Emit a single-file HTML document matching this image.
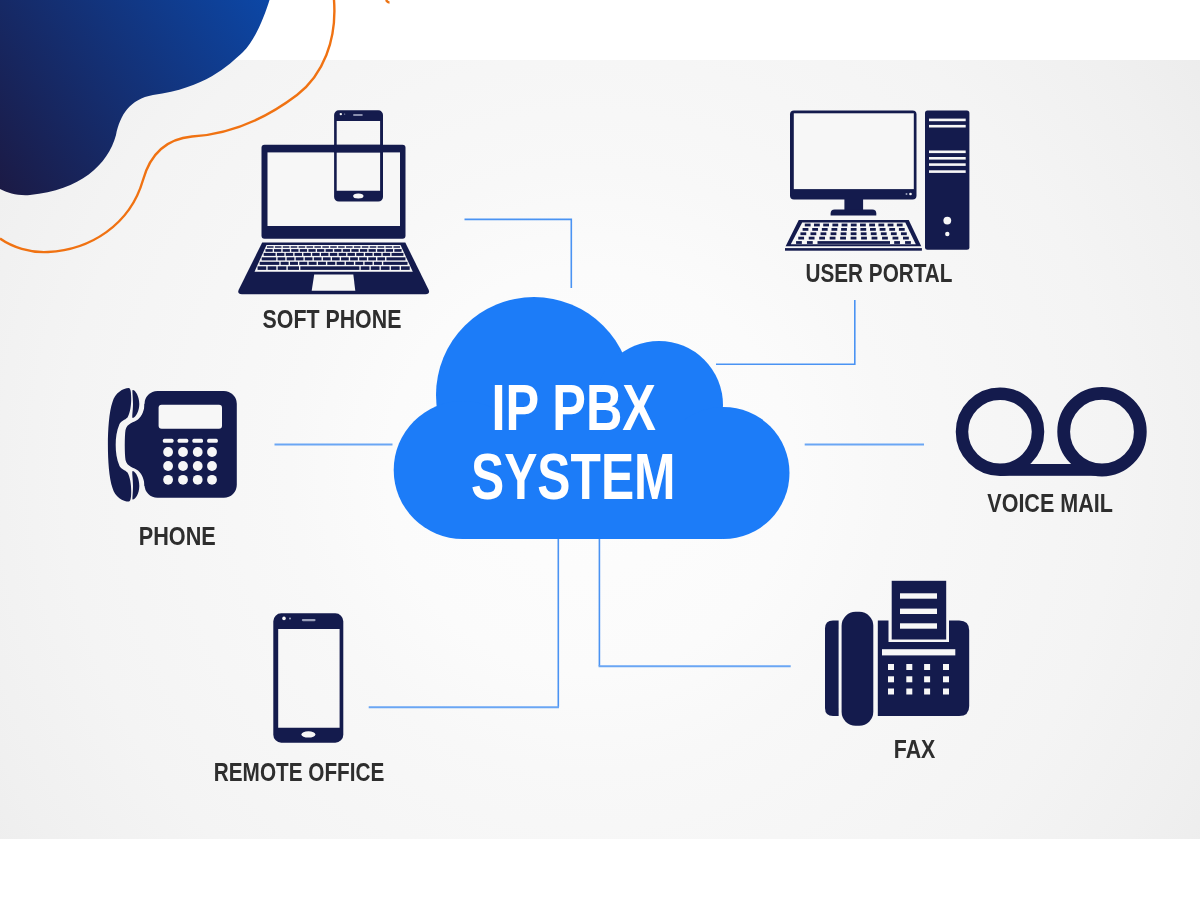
<!DOCTYPE html>
<html><head><meta charset="utf-8">
<style>
html,body{margin:0;padding:0;background:#fff;width:1200px;height:900px;overflow:hidden}
svg{display:block;will-change:transform}
.lbl{font-family:"Liberation Sans",sans-serif;font-weight:bold;fill:#2e2e2e;font-size:26.4px}
.big{font-family:"Liberation Sans",sans-serif;font-weight:bold;fill:#fff;font-size:64px}
</style></head>
<body>
<svg width="1200" height="900" viewBox="0 0 1200 900">
<defs>
<radialGradient id="bg" cx="590" cy="470" r="750" gradientUnits="userSpaceOnUse">
<stop offset="0" stop-color="#fdfdfd"/><stop offset="0.27" stop-color="#fbfbfb"/><stop offset="0.4" stop-color="#f8f8f8"/><stop offset="0.7" stop-color="#f4f4f4"/><stop offset="0.87" stop-color="#f0f0f0"/><stop offset="1" stop-color="#ececec"/>
</radialGradient>
<linearGradient id="blob" x1="0" y1="190" x2="270" y2="0" gradientUnits="userSpaceOnUse">
<stop offset="0" stop-color="#1b1a45"/><stop offset="1" stop-color="#0c47a6"/>
</linearGradient>
</defs>
<rect x="0" y="0" width="1200" height="900" fill="#fff"/>
<rect x="0" y="60" width="1200" height="779" fill="url(#bg)"/>
<!-- blob -->
<path d="M0,0 L269.5,0 C265,15 255,40.8 243,52 C228,66 205,88 153,95 C130,99 120,115 116,135 C108,165 80,190 30,195 C18,196 8,193 0,189 Z" fill="url(#blob)"/>
<!-- orange curve -->
<path d="M334,0 C337,40 323,75 297,95 C268,117 232,134 192,136.5 C165,139 150,155 143,180 C130,225 90,250 48,252 C30,253 12,247 0,238.5" fill="none" stroke="#f07212" stroke-width="2.4"/>
<path d="M386,0 C387,1.5 388,2.5 389.5,2.5" fill="none" stroke="#ec7415" stroke-width="2.5"/>
<!-- connector lines -->
<g fill="none" stroke="#4a93f3" stroke-width="1.6">
<path d="M464.5,219.4 H571.3 V288"/>
<path d="M854.8,300 V364.3 H716"/>
<path d="M558.3,707.2 V538"/>
<path d="M599.4,538 V666.2"/>
</g>
<g fill="none" stroke="#6aa6f4" stroke-width="2">
<path d="M274.5,444.4 H392.5"/>
<path d="M804.7,444.4 H924"/>
<path d="M368.7,707.2 H559"/>
<path d="M598.6,666.2 H790.7"/>
</g>
<!-- cloud -->
<g fill="#1c7cf8">
<circle cx="534" cy="395" r="98"/>
<circle cx="659" cy="405" r="64"/>
<circle cx="462.7" cy="470" r="69"/>
<circle cx="723.5" cy="473" r="66"/>
<rect x="462" y="420" width="260" height="119"/>
</g>
<text class="big" x="491.5" y="430" textLength="164.5" lengthAdjust="spacingAndGlyphs">IP PBX</text>
<text class="big" x="471" y="498.7" textLength="204.5" lengthAdjust="spacingAndGlyphs">SYSTEM</text>
<!-- labels -->
<text class="lbl" x="262.6" y="328.2" textLength="138.8" lengthAdjust="spacingAndGlyphs">SOFT PHONE</text>
<text class="lbl" x="805.5" y="281.8" textLength="147" lengthAdjust="spacingAndGlyphs">USER PORTAL</text>
<text class="lbl" x="138.8" y="544.6" textLength="77" lengthAdjust="spacingAndGlyphs">PHONE</text>
<text class="lbl" x="987.3" y="511.7" textLength="125.5" lengthAdjust="spacingAndGlyphs">VOICE MAIL</text>
<text class="lbl" x="213.8" y="780.8" textLength="170.5" lengthAdjust="spacingAndGlyphs">REMOTE OFFICE</text>
<text class="lbl" x="893.8" y="758.4" textLength="41.5" lengthAdjust="spacingAndGlyphs">FAX</text>
<!-- ICONS -->
<g id="icons">
<rect x="261.5" y="144.8" width="144" height="94" rx="3" fill="#141b4d"/>
<rect x="267.5" y="152.4" width="132.5" height="73.6" fill="#f7f7f7"/>
<path d="M262.2,242.5 H405.3 L428.5,289.5 Q430.5,294.2 425.5,294.2 H241.8 Q236.8,294.2 238.8,289.5 Z" fill="#141b4d"/>
<path d="M266.5,245.0 H400.5 L412.8,271.8 H254.5 Z" fill="#f7f7f7"/>
<rect x="267" y="246" width="6.55" height="2" fill="#141b4d" fill-opacity="0.75"/>
<rect x="274.91" y="246" width="6.55" height="2" fill="#141b4d" fill-opacity="0.75"/>
<rect x="282.81" y="246" width="6.55" height="2" fill="#141b4d" fill-opacity="0.75"/>
<rect x="290.72" y="246" width="6.55" height="2" fill="#141b4d" fill-opacity="0.75"/>
<rect x="298.62" y="246" width="6.55" height="2" fill="#141b4d" fill-opacity="0.75"/>
<rect x="306.52" y="246" width="6.55" height="2" fill="#141b4d" fill-opacity="0.75"/>
<rect x="314.43" y="246" width="6.55" height="2" fill="#141b4d" fill-opacity="0.75"/>
<rect x="322.33" y="246" width="6.55" height="2" fill="#141b4d" fill-opacity="0.75"/>
<rect x="330.23" y="246" width="6.55" height="2" fill="#141b4d" fill-opacity="0.75"/>
<rect x="338.14" y="246" width="6.55" height="2" fill="#141b4d" fill-opacity="0.75"/>
<rect x="346.04" y="246" width="6.55" height="2" fill="#141b4d" fill-opacity="0.75"/>
<rect x="353.95" y="246" width="6.55" height="2" fill="#141b4d" fill-opacity="0.75"/>
<rect x="361.85" y="246" width="6.55" height="2" fill="#141b4d" fill-opacity="0.75"/>
<rect x="369.75" y="246" width="6.55" height="2" fill="#141b4d" fill-opacity="0.75"/>
<rect x="377.66" y="246" width="6.55" height="2" fill="#141b4d" fill-opacity="0.75"/>
<rect x="385.56" y="246" width="6.55" height="2" fill="#141b4d" fill-opacity="0.75"/>
<rect x="393.46" y="246" width="6.55" height="2" fill="#141b4d" fill-opacity="0.75"/>
<rect x="265.46" y="249.1" width="7.24" height="2.7" fill="#141b4d" fill-opacity="1"/>
<rect x="274.05" y="249.1" width="7.24" height="2.7" fill="#141b4d" fill-opacity="1"/>
<rect x="282.65" y="249.1" width="7.24" height="2.7" fill="#141b4d" fill-opacity="1"/>
<rect x="291.24" y="249.1" width="7.24" height="2.7" fill="#141b4d" fill-opacity="1"/>
<rect x="299.83" y="249.1" width="7.24" height="2.7" fill="#141b4d" fill-opacity="1"/>
<rect x="308.43" y="249.1" width="7.24" height="2.7" fill="#141b4d" fill-opacity="1"/>
<rect x="317.02" y="249.1" width="7.24" height="2.7" fill="#141b4d" fill-opacity="1"/>
<rect x="325.61" y="249.1" width="7.24" height="2.7" fill="#141b4d" fill-opacity="1"/>
<rect x="334.21" y="249.1" width="7.24" height="2.7" fill="#141b4d" fill-opacity="1"/>
<rect x="342.8" y="249.1" width="7.24" height="2.7" fill="#141b4d" fill-opacity="1"/>
<rect x="351.39" y="249.1" width="7.24" height="2.7" fill="#141b4d" fill-opacity="1"/>
<rect x="359.99" y="249.1" width="7.24" height="2.7" fill="#141b4d" fill-opacity="1"/>
<rect x="368.58" y="249.1" width="7.24" height="2.7" fill="#141b4d" fill-opacity="1"/>
<rect x="377.17" y="249.1" width="7.24" height="2.7" fill="#141b4d" fill-opacity="1"/>
<rect x="385.76" y="249.1" width="7.24" height="2.7" fill="#141b4d" fill-opacity="1"/>
<rect x="394.36" y="249.1" width="7.24" height="2.7" fill="#141b4d" fill-opacity="1"/>
<rect x="263.69" y="252.9" width="11.88" height="3" fill="#141b4d" fill-opacity="1"/>
<rect x="276.92" y="252.9" width="7.47" height="3" fill="#141b4d" fill-opacity="1"/>
<rect x="285.73" y="252.9" width="7.47" height="3" fill="#141b4d" fill-opacity="1"/>
<rect x="294.55" y="252.9" width="7.47" height="3" fill="#141b4d" fill-opacity="1"/>
<rect x="303.37" y="252.9" width="7.47" height="3" fill="#141b4d" fill-opacity="1"/>
<rect x="312.18" y="252.9" width="7.47" height="3" fill="#141b4d" fill-opacity="1"/>
<rect x="321" y="252.9" width="7.47" height="3" fill="#141b4d" fill-opacity="1"/>
<rect x="329.82" y="252.9" width="7.47" height="3" fill="#141b4d" fill-opacity="1"/>
<rect x="338.64" y="252.9" width="7.47" height="3" fill="#141b4d" fill-opacity="1"/>
<rect x="347.45" y="252.9" width="7.47" height="3" fill="#141b4d" fill-opacity="1"/>
<rect x="356.27" y="252.9" width="7.47" height="3" fill="#141b4d" fill-opacity="1"/>
<rect x="365.09" y="252.9" width="7.47" height="3" fill="#141b4d" fill-opacity="1"/>
<rect x="373.9" y="252.9" width="7.47" height="3" fill="#141b4d" fill-opacity="1"/>
<rect x="382.72" y="252.9" width="7.47" height="3" fill="#141b4d" fill-opacity="1"/>
<rect x="391.54" y="252.9" width="11.88" height="3" fill="#141b4d" fill-opacity="1"/>
<rect x="261.7" y="257.3" width="14.52" height="3.1" fill="#141b4d" fill-opacity="1"/>
<rect x="277.57" y="257.3" width="7.72" height="3.1" fill="#141b4d" fill-opacity="1"/>
<rect x="286.64" y="257.3" width="7.72" height="3.1" fill="#141b4d" fill-opacity="1"/>
<rect x="295.71" y="257.3" width="7.72" height="3.1" fill="#141b4d" fill-opacity="1"/>
<rect x="304.78" y="257.3" width="7.72" height="3.1" fill="#141b4d" fill-opacity="1"/>
<rect x="313.85" y="257.3" width="7.72" height="3.1" fill="#141b4d" fill-opacity="1"/>
<rect x="322.92" y="257.3" width="7.72" height="3.1" fill="#141b4d" fill-opacity="1"/>
<rect x="331.99" y="257.3" width="7.72" height="3.1" fill="#141b4d" fill-opacity="1"/>
<rect x="341.05" y="257.3" width="7.72" height="3.1" fill="#141b4d" fill-opacity="1"/>
<rect x="350.12" y="257.3" width="7.72" height="3.1" fill="#141b4d" fill-opacity="1"/>
<rect x="359.19" y="257.3" width="7.72" height="3.1" fill="#141b4d" fill-opacity="1"/>
<rect x="368.26" y="257.3" width="7.72" height="3.1" fill="#141b4d" fill-opacity="1"/>
<rect x="377.33" y="257.3" width="7.72" height="3.1" fill="#141b4d" fill-opacity="1"/>
<rect x="386.4" y="257.3" width="19.06" height="3.1" fill="#141b4d" fill-opacity="1"/>
<rect x="259.68" y="261.8" width="19.63" height="3.1" fill="#141b4d" fill-opacity="1"/>
<rect x="280.66" y="261.8" width="7.97" height="3.1" fill="#141b4d" fill-opacity="1"/>
<rect x="289.99" y="261.8" width="7.97" height="3.1" fill="#141b4d" fill-opacity="1"/>
<rect x="299.31" y="261.8" width="7.97" height="3.1" fill="#141b4d" fill-opacity="1"/>
<rect x="308.64" y="261.8" width="7.97" height="3.1" fill="#141b4d" fill-opacity="1"/>
<rect x="317.96" y="261.8" width="7.97" height="3.1" fill="#141b4d" fill-opacity="1"/>
<rect x="327.28" y="261.8" width="7.97" height="3.1" fill="#141b4d" fill-opacity="1"/>
<rect x="336.61" y="261.8" width="7.97" height="3.1" fill="#141b4d" fill-opacity="1"/>
<rect x="345.93" y="261.8" width="7.97" height="3.1" fill="#141b4d" fill-opacity="1"/>
<rect x="355.26" y="261.8" width="7.97" height="3.1" fill="#141b4d" fill-opacity="1"/>
<rect x="364.58" y="261.8" width="7.97" height="3.1" fill="#141b4d" fill-opacity="1"/>
<rect x="373.91" y="261.8" width="7.97" height="3.1" fill="#141b4d" fill-opacity="1"/>
<rect x="383.23" y="261.8" width="24.29" height="3.1" fill="#141b4d" fill-opacity="1"/>
<rect x="257.56" y="266.3" width="8.72" height="3.6" fill="#141b4d" fill-opacity="1"/>
<rect x="267.62" y="266.3" width="8.72" height="3.6" fill="#141b4d" fill-opacity="1"/>
<rect x="277.69" y="266.3" width="8.72" height="3.6" fill="#141b4d" fill-opacity="1"/>
<rect x="287.75" y="266.3" width="11.23" height="3.6" fill="#141b4d" fill-opacity="1"/>
<rect x="300.33" y="266.3" width="59.04" height="3.6" fill="#141b4d" fill-opacity="1"/>
<rect x="360.73" y="266.3" width="8.72" height="3.6" fill="#141b4d" fill-opacity="1"/>
<rect x="370.79" y="266.3" width="8.72" height="3.6" fill="#141b4d" fill-opacity="1"/>
<rect x="380.86" y="266.3" width="8.72" height="3.6" fill="#141b4d" fill-opacity="1"/>
<rect x="390.92" y="266.3" width="8.72" height="3.6" fill="#141b4d" fill-opacity="1"/>
<rect x="400.99" y="266.3" width="8.72" height="3.6" fill="#141b4d" fill-opacity="1"/>
<path d="M314.2,274.5 H353.3 L355.3,290.8 H311.7 Z" fill="#f7f7f7"/>
<path fill-rule="evenodd" d="M338.8,110.3 H378.3 A4.7,4.7 0 0 1 383,115 V196.9 A4.7,4.7 0 0 1 378.3,201.6 H338.8 A4.7,4.7 0 0 1 334.1,196.9 V115 A4.7,4.7 0 0 1 338.8,110.3 Z M336.7,121.1 V190.8 H380.1 V121.1 Z" fill="#141b4d"/>
<rect x="334.1" y="144.8" width="48.9" height="7.6" fill="#141b4d"/>
<ellipse cx="358.3" cy="196" rx="5.2" ry="2.5" fill="#f7f7f7"/>
<rect x="353" y="114" width="9.8" height="2" rx="1" fill="#8a8fae"/>
<circle cx="340.8" cy="114.1" r="1.2" fill="#f7f7f7"/>
<circle cx="344.6" cy="114.1" r="0.7" fill="#8a8fae"/>
<rect x="790" y="110.5" width="126.5" height="89" rx="4" fill="#141b4d"/>
<rect x="793.8" y="113.3" width="120" height="75.8" fill="#f7f7f7"/>
<circle cx="906.5" cy="194" r="1" fill="#9aa0bb"/>
<circle cx="910.5" cy="194" r="1.3" fill="#f7f7f7"/>
<rect x="844.4" y="198" width="18.7" height="12.5" fill="#141b4d"/>
<path d="M834.6,209.4 H872.3 Q876.3,209.4 876.3,213.4 V215.6 H830.6 V213.4 Q830.6,209.4 834.6,209.4 Z" fill="#141b4d"/>
<path d="M798.75,220 H908.75 L921.25,246.25 H785.6 Z" fill="#141b4d"/>
<path d="M802.2,222.5 H905.3 L915.8,244.2 H790.8 Z" fill="#f7f7f7"/>
<rect x="785" y="248.1" width="136.9" height="2.6" fill="#141b4d"/>
<rect x="804.79" y="223.6" width="5.8" height="2.8" fill="#141b4d"/>
<rect x="813.99" y="223.6" width="5.8" height="2.8" fill="#141b4d"/>
<rect x="823.2" y="223.6" width="5.8" height="2.8" fill="#141b4d"/>
<rect x="832.41" y="223.6" width="5.8" height="2.8" fill="#141b4d"/>
<rect x="841.61" y="223.6" width="5.8" height="2.8" fill="#141b4d"/>
<rect x="850.82" y="223.6" width="5.8" height="2.8" fill="#141b4d"/>
<rect x="860.02" y="223.6" width="5.8" height="2.8" fill="#141b4d"/>
<rect x="869.23" y="223.6" width="5.8" height="2.8" fill="#141b4d"/>
<rect x="878.43" y="223.6" width="5.8" height="2.8" fill="#141b4d"/>
<rect x="887.64" y="223.6" width="5.8" height="2.8" fill="#141b4d"/>
<rect x="896.84" y="223.6" width="5.8" height="2.8" fill="#141b4d"/>
<rect x="802.6" y="228" width="5.8" height="2.8" fill="#141b4d"/>
<rect x="812.23" y="228" width="5.8" height="2.8" fill="#141b4d"/>
<rect x="821.86" y="228" width="5.8" height="2.8" fill="#141b4d"/>
<rect x="831.49" y="228" width="5.8" height="2.8" fill="#141b4d"/>
<rect x="841.12" y="228" width="5.8" height="2.8" fill="#141b4d"/>
<rect x="850.75" y="228" width="5.8" height="2.8" fill="#141b4d"/>
<rect x="860.39" y="228" width="5.8" height="2.8" fill="#141b4d"/>
<rect x="870.02" y="228" width="5.8" height="2.8" fill="#141b4d"/>
<rect x="879.65" y="228" width="5.8" height="2.8" fill="#141b4d"/>
<rect x="889.28" y="228" width="5.8" height="2.8" fill="#141b4d"/>
<rect x="898.91" y="228" width="5.8" height="2.8" fill="#141b4d"/>
<rect x="800.43" y="232.35" width="5.8" height="2.8" fill="#141b4d"/>
<rect x="810.48" y="232.35" width="5.8" height="2.8" fill="#141b4d"/>
<rect x="820.53" y="232.35" width="5.8" height="2.8" fill="#141b4d"/>
<rect x="830.59" y="232.35" width="5.8" height="2.8" fill="#141b4d"/>
<rect x="840.64" y="232.35" width="5.8" height="2.8" fill="#141b4d"/>
<rect x="850.69" y="232.35" width="5.8" height="2.8" fill="#141b4d"/>
<rect x="860.75" y="232.35" width="5.8" height="2.8" fill="#141b4d"/>
<rect x="870.8" y="232.35" width="5.8" height="2.8" fill="#141b4d"/>
<rect x="880.85" y="232.35" width="5.8" height="2.8" fill="#141b4d"/>
<rect x="890.91" y="232.35" width="5.8" height="2.8" fill="#141b4d"/>
<rect x="900.96" y="232.35" width="5.8" height="2.8" fill="#141b4d"/>
<rect x="798.26" y="236.7" width="5.8" height="2.8" fill="#141b4d"/>
<rect x="808.73" y="236.7" width="5.8" height="2.8" fill="#141b4d"/>
<rect x="819.21" y="236.7" width="5.8" height="2.8" fill="#141b4d"/>
<rect x="829.68" y="236.7" width="5.8" height="2.8" fill="#141b4d"/>
<rect x="840.16" y="236.7" width="5.8" height="2.8" fill="#141b4d"/>
<rect x="850.63" y="236.7" width="5.8" height="2.8" fill="#141b4d"/>
<rect x="861.11" y="236.7" width="5.8" height="2.8" fill="#141b4d"/>
<rect x="871.58" y="236.7" width="5.8" height="2.8" fill="#141b4d"/>
<rect x="882.06" y="236.7" width="5.8" height="2.8" fill="#141b4d"/>
<rect x="892.53" y="236.7" width="5.8" height="2.8" fill="#141b4d"/>
<rect x="903.01" y="236.7" width="5.8" height="2.8" fill="#141b4d"/>
<rect x="796.06" y="241.1" width="5.8" height="2.8" fill="#141b4d"/>
<rect x="806.96" y="241.1" width="5.8" height="2.8" fill="#141b4d"/>
<rect x="894.17" y="241.1" width="5.8" height="2.8" fill="#141b4d"/>
<rect x="905.07" y="241.1" width="5.8" height="2.8" fill="#141b4d"/>
<rect x="817.5" y="241.1" width="72.5" height="2.8" fill="#141b4d"/>
<rect x="925" y="110.5" width="44.4" height="139.3" rx="2.5" fill="#141b4d"/>
<rect x="929" y="118.6" width="36.7" height="2.6" fill="#f7f7f7"/>
<rect x="929" y="124.9" width="36.7" height="2.6" fill="#f7f7f7"/>
<rect x="929" y="150.5" width="36.7" height="2.6" fill="#f7f7f7"/>
<rect x="929" y="157" width="36.7" height="2.6" fill="#f7f7f7"/>
<rect x="929" y="163.3" width="36.7" height="2.6" fill="#f7f7f7"/>
<rect x="929" y="170.3" width="36.7" height="2.6" fill="#f7f7f7"/>
<circle cx="947.3" cy="220.6" r="3.9" fill="#f7f7f7"/>
<circle cx="947.3" cy="234" r="2.2" fill="#f7f7f7"/>
<rect x="144.5" y="391" width="92.3" height="106.8" rx="13" fill="#141b4d"/>
<path d="M144.5,404 C144.5,410 142,416 138,419.5 C134,422.5 127,423 125.5,430 C124.5,436 124.5,454 125.5,460 C127,467 134,467.5 138,470.5 C142,474 144.5,480 144.5,486 L150,486 L150,404 Z" fill="#141b4d"/>
<path d="M132.6,390 C135,389.5 139.3,396 139.3,404 C139.3,411 136,417 132.8,418 C131.5,418 133,411 133,404 C133,397 132,390.5 132.6,390 Z" fill="#141b4d"/>
<path d="M132.6,499.6 C135,500 139.3,494 139.3,486 C139.3,478 136,472 132.8,471 C131.5,471 133,478 133,486 C133,493 132,499 132.6,499.6 Z" fill="#141b4d"/>
<path d="M128.9,388 C130.6,388.5 131.2,392 131.2,399 C131.2,406 130,413 127.5,417.5 C125,420 121,421 119.5,424 C116.5,431 115.7,438 115.7,445 C115.7,452 116.5,459 119.5,466 C121,469 125,470 127.5,472.5 C130,477 131.2,484 131.2,491 C131.2,498 130.6,501.2 128.9,501.6 C123,501.6 115,497 112.5,488 C109,478 107.9,460 107.9,445 C107.9,430 109,412 112.5,402 C115,393 123,388 128.9,388 Z" fill="#141b4d"/>
<rect x="158.6" y="404.8" width="63.4" height="23.9" rx="3" fill="#f7f7f7"/>
<rect x="162.9" y="438.7" width="10.6" height="4" rx="1.5" fill="#f7f7f7"/>
<rect x="177.6" y="438.7" width="10.6" height="4" rx="1.5" fill="#f7f7f7"/>
<rect x="192.4" y="438.7" width="10.6" height="4" rx="1.5" fill="#f7f7f7"/>
<rect x="207.2" y="438.7" width="10.6" height="4" rx="1.5" fill="#f7f7f7"/>
<circle cx="168.1" cy="452" r="4.9" fill="#f7f7f7"/>
<circle cx="183" cy="452" r="4.9" fill="#f7f7f7"/>
<circle cx="197.7" cy="452" r="4.9" fill="#f7f7f7"/>
<circle cx="212" cy="452" r="4.9" fill="#f7f7f7"/>
<circle cx="168.1" cy="466" r="4.9" fill="#f7f7f7"/>
<circle cx="183" cy="466" r="4.9" fill="#f7f7f7"/>
<circle cx="197.7" cy="466" r="4.9" fill="#f7f7f7"/>
<circle cx="212" cy="466" r="4.9" fill="#f7f7f7"/>
<circle cx="168.1" cy="479.8" r="4.9" fill="#f7f7f7"/>
<circle cx="183" cy="479.8" r="4.9" fill="#f7f7f7"/>
<circle cx="197.7" cy="479.8" r="4.9" fill="#f7f7f7"/>
<circle cx="212" cy="479.8" r="4.9" fill="#f7f7f7"/>
<circle cx="1000" cy="431.7" r="38" fill="none" stroke="#141b4d" stroke-width="12.5"/>
<circle cx="1102" cy="431.7" r="38.3" fill="none" stroke="#141b4d" stroke-width="12.8"/>
<rect x="1000" y="464" width="102" height="11.8" fill="#141b4d"/>
<path fill-rule="evenodd" d="M281.3,613.3 H335.3 A8,8 0 0 1 343.3,621.3 V734.7 A8,8 0 0 1 335.3,742.7 H281.3 A8,8 0 0 1 273.3,734.7 V621.3 A8,8 0 0 1 281.3,613.3 Z M278.2,628.9 V727.8 H339.6 V628.9 Z" fill="#141b4d"/>
<ellipse cx="308.4" cy="734.4" rx="7" ry="3.2" fill="#f7f7f7"/>
<rect x="301.8" y="619" width="13.8" height="2.2" rx="1.1" fill="#9aa0bb"/>
<circle cx="284" cy="618.4" r="1.8" fill="#f7f7f7"/>
<circle cx="290" cy="618.4" r="1" fill="#9aa0bb"/>
<path d="M833,620.6 H838.6 V716 H833 Q825,716 825,708 V628.6 Q825,620.6 833,620.6 Z" fill="#141b4d"/>
<rect x="841.6" y="611.8" width="31.7" height="114" rx="14" fill="#141b4d"/>
<path d="M877.8,620.6 H959.2 Q969.2,620.6 969.2,630.6 V706 Q969.2,716 959.2,716 H877.8 Z" fill="#141b4d"/>
<rect x="888.5" y="617" width="60.5" height="25" fill="#f7f7f7"/>
<rect x="891.7" y="580.8" width="54.5" height="58.7" fill="#141b4d"/>
<rect x="900" y="593.3" width="37" height="5.4" fill="#f7f7f7"/>
<rect x="900" y="608.6" width="37" height="5.4" fill="#f7f7f7"/>
<rect x="900" y="623.3" width="37" height="5.4" fill="#f7f7f7"/>
<rect x="882" y="649.2" width="73.3" height="6.2" fill="#f7f7f7"/>
<rect x="888" y="664" width="6" height="6" fill="#f7f7f7"/>
<rect x="906.3" y="664" width="6" height="6" fill="#f7f7f7"/>
<rect x="924.1" y="664" width="6" height="6" fill="#f7f7f7"/>
<rect x="943" y="664" width="6" height="6" fill="#f7f7f7"/>
<rect x="888" y="676.3" width="6" height="6" fill="#f7f7f7"/>
<rect x="906.3" y="676.3" width="6" height="6" fill="#f7f7f7"/>
<rect x="924.1" y="676.3" width="6" height="6" fill="#f7f7f7"/>
<rect x="943" y="676.3" width="6" height="6" fill="#f7f7f7"/>
<rect x="888" y="688.5" width="6" height="6" fill="#f7f7f7"/>
<rect x="906.3" y="688.5" width="6" height="6" fill="#f7f7f7"/>
<rect x="924.1" y="688.5" width="6" height="6" fill="#f7f7f7"/>
<rect x="943" y="688.5" width="6" height="6" fill="#f7f7f7"/>
</g>
</svg>
</body></html>
